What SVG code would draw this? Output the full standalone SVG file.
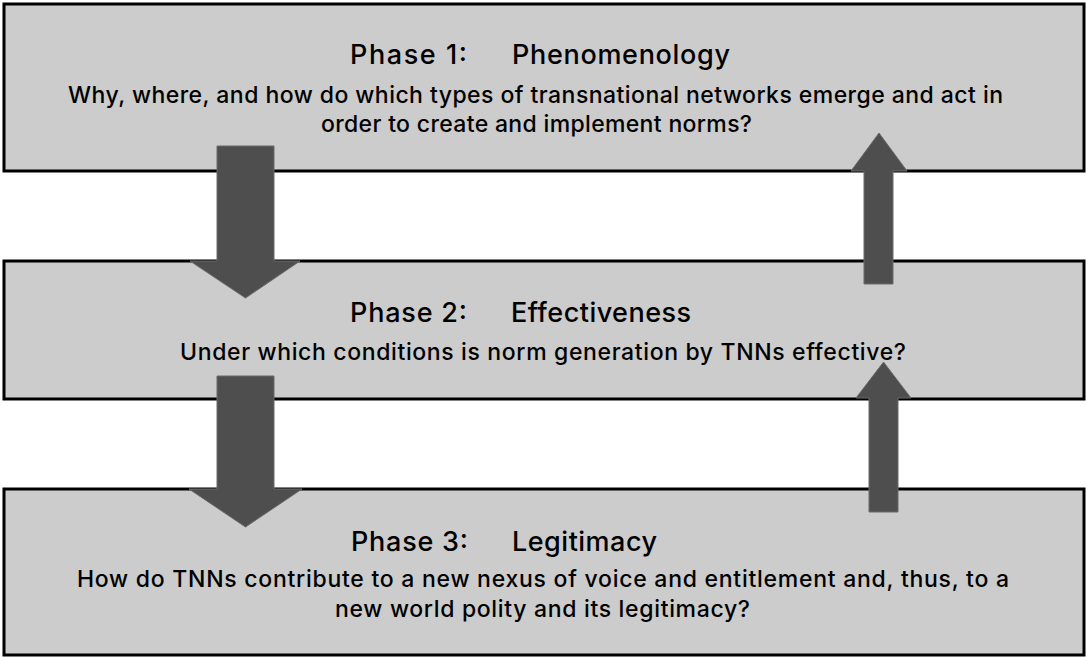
<svg xmlns="http://www.w3.org/2000/svg" width="1086" height="657" viewBox="0 0 1086 657">
<style>
.box{fill:#cccccc;stroke:#000;stroke-width:3}
.arr{fill:#4e4e4e;stroke:#6a6a6a;stroke-width:1}
.title{font-family:Inter,"Liberation Sans",Arial,sans-serif;font-weight:500;font-size:27px;fill:#000}
.body{font-family:Inter,"Liberation Sans",Arial,sans-serif;font-weight:500;font-size:23px;fill:#000}
</style>
<rect width="1086" height="657" fill="#fff"/>
<g id="phase1">
<rect class="box" x="4" y="4" width="1080" height="167"/>
<text class="title" x="350" y="64" textLength="117">Phase 1:</text>
<text class="title" x="512" y="64" textLength="218">Phenomenology</text>
<text class="body" x="68" y="103" textLength="935">Why, where, and how do which types of transnational networks emerge and act in</text>
<text class="body" x="321" y="132" textLength="431">order to create and implement norms?</text>
</g>
<g id="phase2">
<rect class="box" x="4" y="261" width="1080" height="138"/>
<text class="title" x="350" y="322" textLength="117">Phase 2:</text>
<text class="title" x="511" y="322" textLength="180">Effectiveness</text>
<text class="body" x="180" y="360" textLength="726">Under which conditions is norm generation by TNNs effective?</text>
</g>
<g id="phase3">
<rect class="box" x="4" y="489" width="1080" height="166"/>
<text class="title" x="351" y="551" textLength="117">Phase 3:</text>
<text class="title" x="512" y="551" textLength="145">Legitimacy</text>
<text class="body" x="77" y="587" textLength="932">How do TNNs contribute to a new nexus of voice and entitlement and, thus, to a</text>
<text class="body" x="335" y="617" textLength="415">new world polity and its legitimacy?</text>
</g>
<g id="connectors">
<polygon class="arr" points="217,146 274,146 274,261 300,261 245.5,298 190,261 217,261"/>
<polygon class="arr" points="217,376 274,376 274,489 302,489 245.5,527 189,489 217,489"/>
<polygon class="arr" points="864,284 893,284 893,171 907,171 879,133 851,171 864,171"/>
<polygon class="arr" points="869,512 898,512 898,398 911,398 883.5,362 856,398 869,398"/>
</g>
</svg>
